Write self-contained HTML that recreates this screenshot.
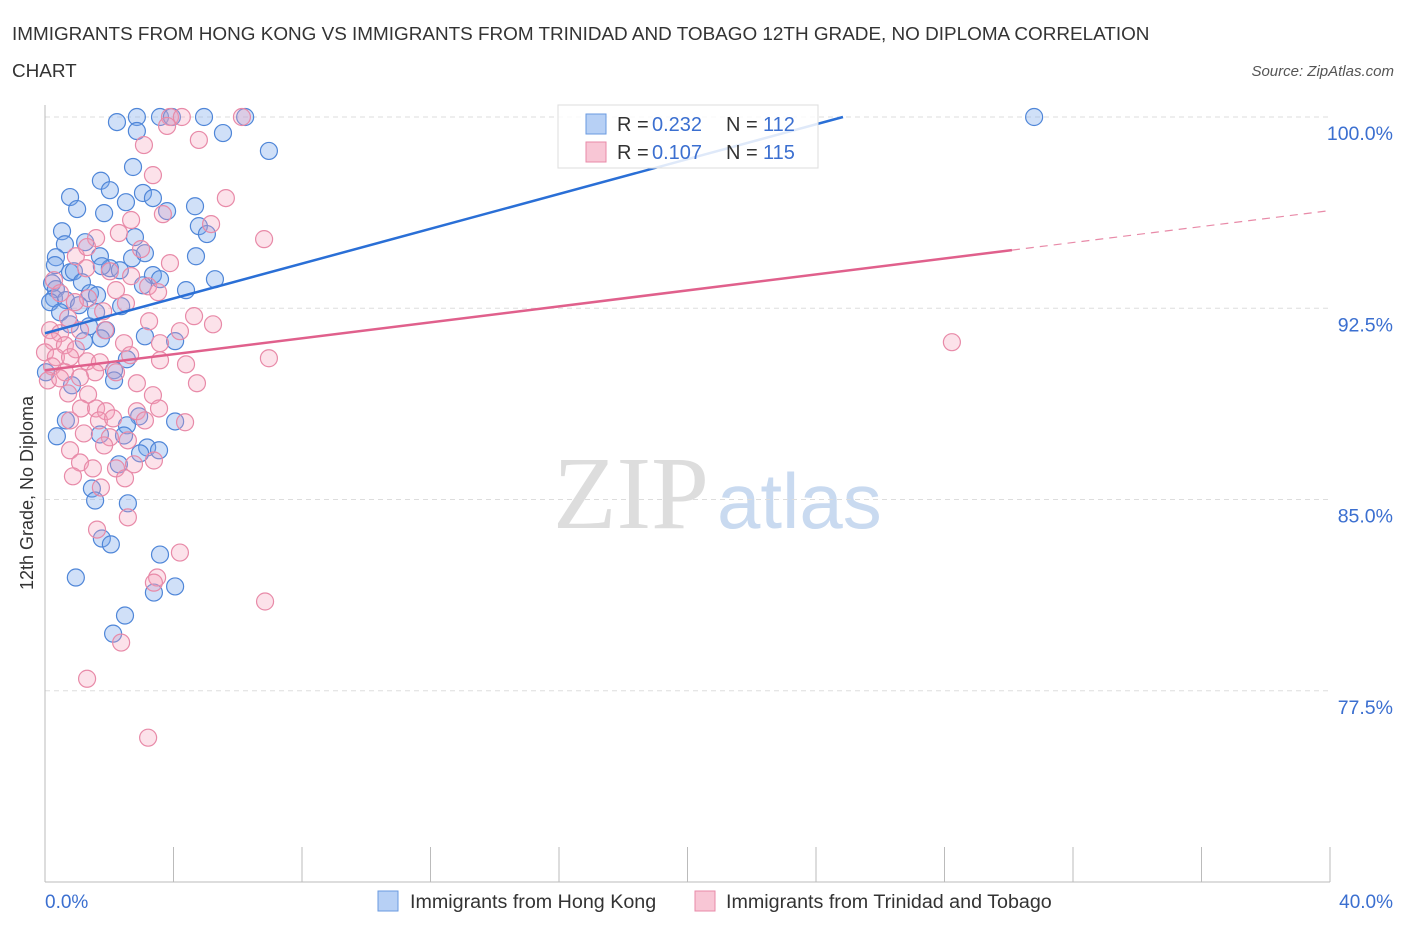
<!DOCTYPE html>
<html><head><meta charset="utf-8"><style>
body{margin:0;background:#fff;font-family:"Liberation Sans",sans-serif;}
svg{display:block}
</style></head><body>
<svg width="1406" height="930">
<text x="12" y="40" font-size="18.9" fill="#333">IMMIGRANTS FROM HONG KONG VS IMMIGRANTS FROM TRINIDAD AND TOBAGO 12TH GRADE, NO DIPLOMA CORRELATION</text>
<text x="12" y="77" font-size="18.9" fill="#333">CHART</text>
<text x="1394" y="76" font-size="15" fill="#555" font-style="italic" text-anchor="end">Source: ZipAtlas.com</text>
<g>
<text x="553" y="528" font-size="104" font-family="Liberation Serif,serif" fill="#ddd">ZIP</text>
<text x="717" y="528" font-size="78" fill="#c9daf0">atlas</text>
</g>
<g id="grid"></g>
<g id="axes"></g>
<g id="pts"></g>
<g id="trend"></g>
<text x="33" y="493" font-size="18" fill="#333" text-anchor="middle" transform="rotate(-90 33 493)">12th Grade, No Diploma</text>
<text x="45" y="908" font-size="19" fill="#3b6fd0">0.0%</text>
<text x="1393" y="908" font-size="19" fill="#3b6fd0" text-anchor="end">40.0%</text>
<g>
<rect x="558" y="105" width="260" height="63" fill="rgba(255,255,255,0.85)" stroke="#ddd"/>
<rect x="586" y="114" width="20" height="20" fill="#b7d0f5" stroke="#6a9ae0"/>
<text x="617" y="131" font-size="20" fill="#333">R =</text>
<text x="652" y="131" font-size="20" fill="#3b6fd0">0.232</text>
<text x="726" y="131" font-size="20" fill="#333">N =</text>
<text x="763" y="131" font-size="20" fill="#3b6fd0">112</text>
<rect x="586" y="142" width="20" height="20" fill="#f8c6d5" stroke="#e88aa8"/>
<text x="617" y="159" font-size="20" fill="#333">R =</text>
<text x="652" y="159" font-size="20" fill="#3b6fd0">0.107</text>
<text x="726" y="159" font-size="20" fill="#333">N =</text>
<text x="763" y="159" font-size="20" fill="#3b6fd0">115</text>
</g>
<g>
<rect x="378" y="891" width="20" height="20" fill="#b7d0f5" stroke="#6a9ae0"/>
<text x="410" y="908" font-size="19.7" fill="#333">Immigrants from Hong Kong</text>
<rect x="695" y="891" width="20" height="20" fill="#f8c6d5" stroke="#e88aa8"/>
<text x="726" y="908" font-size="19.7" fill="#333">Immigrants from Trinidad and Tobago</text>
</g>
</svg>
<script>
const yTicks=[77.5,85,92.5,100];
const yTickLabels=["77.5%","85.0%","92.5%","100.0%"];
const xTicks=[0,4,8,12,16,20,24,28,32,36,40];
const blueX=[2.24,2.86,3.58,3.95,4.95,6.23,30.79,2.86,5.54,6.97,2.74,1.74,2.02,3.05,0.78,3.36,2.52,4.67,1.0,1.84,3.8,4.79,0.53,5.04,2.8,1.25,0.62,1.71,0.34,2.71,3.11,4.7,0.31,0.78,0.9,2.02,2.33,1.77,3.36,3.58,5.29,1.15,0.22,3.05,4.39,0.34,1.4,1.62,0.28,0.65,0.16,1.06,2.37,1.59,0.47,1.37,0.78,1.9,3.11,4.05,1.21,1.74,2.55,2.15,0.03,0.84,2.15,0.65,2.93,4.05,2.55,0.37,1.71,2.46,3.18,3.55,2.96,2.3,1.46,1.56,2.58,1.77,2.05,3.58,0.96,4.05,3.39,2.49,2.12];
const blueY=[99.8,100,100,100,100,100,100,99.45,99.37,98.67,98.04,97.5,97.13,97.02,96.86,96.82,96.66,96.5,96.39,96.23,96.31,95.72,95.52,95.41,95.29,95.09,95.01,94.54,94.5,94.46,94.66,94.54,94.19,93.91,93.95,94.07,93.99,94.15,93.8,93.64,93.64,93.52,93.48,93.4,93.21,93.25,93.09,93.01,92.89,92.82,92.74,92.62,92.58,92.34,92.34,91.79,91.87,91.64,91.4,91.21,91.21,91.32,90.5,90.07,89.99,89.48,89.67,88.1,88.26,88.06,87.91,87.48,87.55,87.51,87.04,86.93,86.81,86.38,85.43,84.96,84.85,83.47,83.24,82.84,81.94,81.59,81.35,80.45,79.74];
const pinkX=[3.89,4.26,6.13,3.8,4.79,3.08,3.36,5.63,3.67,2.68,5.17,2.3,1.59,6.82,2.99,0.96,3.89,1.28,2.02,0.28,3.21,2.21,0.47,1.34,2.52,1.81,4.64,5.23,3.24,0.72,0.16,0.47,1.09,1.87,4.2,0.25,0.62,0.96,2.46,3.58,0,0.34,0.78,1.31,1.71,2.65,3.58,4.39,6.97,0.22,0.62,1.56,2.21,0.09,0.47,1.09,2.86,4.73,0.72,1.34,3.36,1.12,1.59,1.9,2.86,3.55,0.78,1.68,2.12,3.11,4.36,1.21,2.02,2.58,1.84,0.78,1.09,1.49,2.77,2.21,3.39,0.87,2.49,1.74,2.58,1.62,4.2,3.49,3.39,6.85,2.37,1.31,3.21,28.23,0.93,1.31,2.68,3.52];
const pinkY=[100,100,100,99.65,99.1,98.9,97.72,96.82,96.19,95.96,95.8,95.45,95.25,95.21,94.82,94.54,94.27,94.07,93.95,93.6,93.36,93.21,93.09,92.89,92.7,92.38,92.19,91.87,91.99,92.11,91.64,91.52,91.64,91.64,91.6,91.21,91.05,90.89,91.13,91.13,90.77,90.58,90.58,90.42,90.38,90.66,90.46,90.3,90.54,90.22,89.99,89.99,89.99,89.67,89.75,89.79,89.56,89.56,89.16,89.12,89.09,88.57,88.57,88.46,88.46,88.57,88.1,88.1,88.18,88.1,88.03,87.59,87.44,87.32,87.12,86.93,86.45,86.22,86.38,86.22,86.53,85.91,85.83,85.47,84.3,83.82,82.92,81.94,81.74,81.0,79.39,77.97,75.66,91.17,92.74,94.9,93.76,93.13];
const blueTrendX=[0,24.84];
const blueTrendY=[91.52,100];
const pinkTrendX=[0,30.1,40];
const pinkTrendY=[90.07,94.78,96.33];

const NS="http://www.w3.org/2000/svg";
const sx=v=>45+v/40*1285;
const sy=v=>117+(100-v)/30*765;
function mk(tag,attrs,parent){const e=document.createElementNS(NS,tag);for(const k in attrs)e.setAttribute(k,attrs[k]);parent.appendChild(e);return e;}
const grid=document.getElementById('grid'),axes=document.getElementById('axes'),pts=document.getElementById('pts'),trend=document.getElementById('trend');
yTicks.forEach((t,i)=>{
  const l=mk('line',{x1:45,x2:1330,y1:sy(t),y2:sy(t),stroke:'#ddd','stroke-dasharray':'5,4'},grid);
  
  
  const tx=mk('text',{x:1393,y:sy(t)+23,'font-size':19.5,fill:'#3b6fd0','text-anchor':'end'},axes);
  tx.textContent=yTickLabels[i];
  
  
});
const xa=mk('line',{x1:45,x2:1330,y1:882,y2:882,stroke:'#bbb'},axes);


const ya=mk('line',{x1:45,x2:45,y1:105,y2:882,stroke:'#bbb'},axes);


xTicks.forEach(t=>{
  const l=mk('line',{x1:sx(t),x2:sx(t),y1:847,y2:882,stroke:'#bbb'},axes);
  
  
});
blueX.forEach((x,i)=>{
  const c=mk('circle',{cx:sx(x),cy:sy(blueY[i]),r:8.5,fill:'rgba(120,165,235,0.35)',stroke:'#4f86d8','stroke-width':1.2},pts);
  
  
});
pinkX.forEach((x,i)=>{
  const c=mk('circle',{cx:sx(x),cy:sy(pinkY[i]),r:8.5,fill:'rgba(245,160,185,0.3)',stroke:'#e88aa8','stroke-width':1.2},pts);
  
  
});
const bl=mk('line',{x1:sx(blueTrendX[0]),y1:sy(blueTrendY[0]),x2:sx(blueTrendX[1]),y2:sy(blueTrendY[1]),stroke:'#2a6fd6','stroke-width':2.5},trend);


const pl=mk('line',{x1:sx(pinkTrendX[0]),y1:sy(pinkTrendY[0]),x2:sx(pinkTrendX[1]),y2:sy(pinkTrendY[1]),stroke:'#e0608c','stroke-width':2.5},trend);


const pd=mk('line',{x1:sx(pinkTrendX[1]),y1:sy(pinkTrendY[1]),x2:sx(pinkTrendX[2]),y2:sy(pinkTrendY[2]),stroke:'#e88aa8','stroke-width':1.2,'stroke-dasharray':'8,6'},trend);


</script>
</body></html>
